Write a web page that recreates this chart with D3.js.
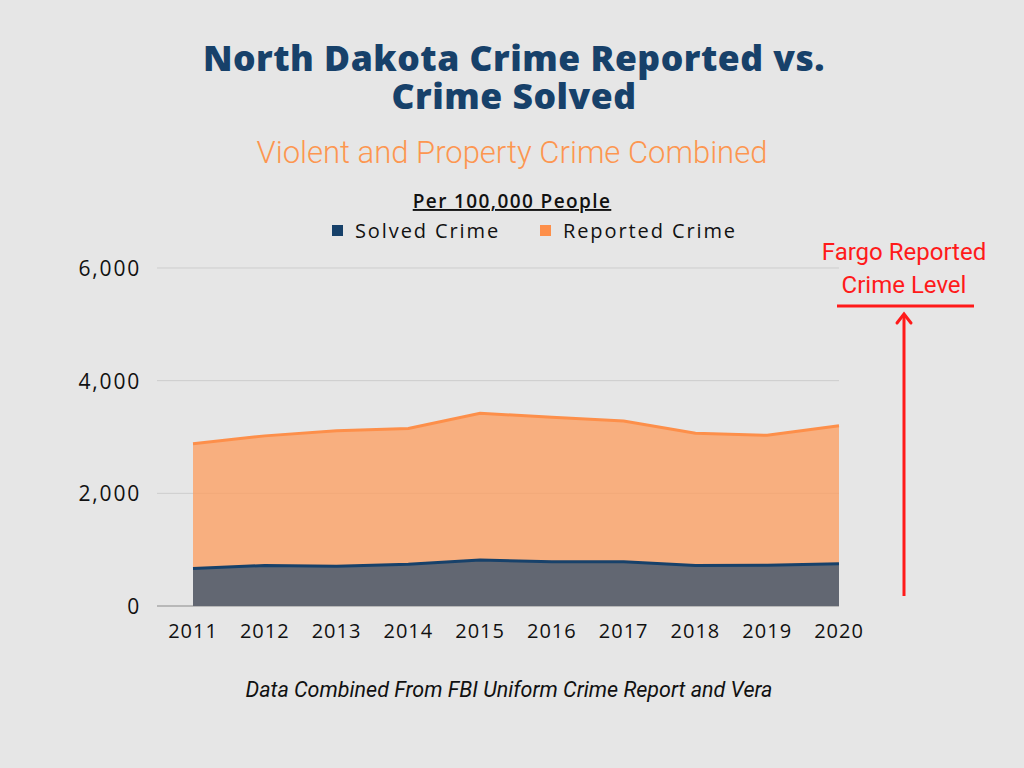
<!DOCTYPE html>
<html>
<head>
<meta charset="utf-8">
<script src="https://cdn.jsdelivr.net/npm/d3@7"></script>
<style>
  body { margin: 0; background: #e6e6e6; }
  svg { display: block; }
</style>
</head>
<body>
<div id="chart"></div>
<script>
// Chart data (per 100,000 people)
const years = [2011, 2012, 2013, 2014, 2015, 2016, 2017, 2018, 2019, 2020];
const reported = [2880, 3020, 3110, 3150, 3420, 3350, 3285, 3065, 3030, 3200];
const solved = [665, 720, 705, 740, 815, 785, 785, 720, 722, 750];
const yTicks = [0, 2000, 4000, 6000];

const W = 1024, H = 768;
const margin = { top: 268, right: 185, bottom: 162, left: 193 };
const width = W - margin.left - margin.right,
      height = H - margin.top - margin.bottom;

const svg = d3.select("#chart")
    .append("svg")
    .attr("width", W)
    .attr("height", H);

svg.append("rect").attr("width", W).attr("height", H).attr("fill", "#e6e6e6");

// Title (two lines in one text element)
const title = svg.append("text")
    .attr("text-anchor", "middle")
    .attr("font-family", "'Open Sans', sans-serif")
    .attr("font-weight", 800)
    .attr("font-size", 35.5)
    .attr("letter-spacing", 0.5)
    .attr("fill", "#17416a");
["North Dakota Crime Reported vs.", "Crime Solved"].forEach((t, i) => {
    title.append("tspan")
        .attr("x", 514).attr("y", 71 + i * 38)
        .text(t);
});

svg.append("text")
    .attr("x", 512).attr("y", 163)
    .attr("text-anchor", "middle")
    .attr("font-family", "Roboto, sans-serif")
    .attr("font-weight", 300)
    .attr("font-size", 31)
    .attr("fill", "#fd9650")
    .text("Violent and Property Crime Combined");

svg.append("text")
    .attr("x", 512).attr("y", 208)
    .attr("text-anchor", "middle")
    .attr("font-family", "'Open Sans', sans-serif")
    .attr("font-weight", 600)
    .attr("font-size", 19)
    .attr("letter-spacing", 1.4)
    .attr("fill", "#111")
    .attr("text-decoration", "underline")
    .text("Per 100,000 People");

// Legend
const legend = [
    { label: "Solved Crime", color: "#17416a", x: 332 },
    { label: "Reported Crime", color: "#fd8f4a", x: 540 }
];
legend.forEach(d => {
    svg.append("rect")
        .attr("x", d.x).attr("y", 225)
        .attr("width", 11).attr("height", 11)
        .attr("fill", d.color);
    svg.append("text")
        .attr("x", d.x + 23).attr("y", 238)
        .attr("font-family", "'Open Sans', sans-serif")
        .attr("font-size", 20)
        .attr("letter-spacing", 1.9)
        .attr("fill", "#111")
        .text(d.label);
});

const g = svg.append("g")
    .attr("transform", `translate(${margin.left},${margin.top})`);

const x = d3.scaleLinear()
    .domain([d3.min(years), d3.max(years)])
    .range([0, width]);

const y = d3.scaleLinear()
    .domain([0, 6000])
    .range([height, 0]);

// Gridlines
g.selectAll(".grid")
    .data(yTicks)
    .enter().append("line")
    .attr("x1", -36).attr("x2", width)
    .attr("y1", d => y(d)).attr("y2", d => y(d))
    .attr("stroke", d => d === 0 ? "#a8a8a8" : "#cdcdcd")
    .attr("stroke-width", d => d === 0 ? 1.5 : 1);

// Y labels
g.selectAll(".ylab")
    .data(yTicks)
    .enter().append("text")
    .attr("x", -52)
    .attr("y", d => y(d) + 8)
    .attr("text-anchor", "end")
    .attr("font-family", "'Open Sans', sans-serif")
    .attr("font-size", 21)
    .attr("letter-spacing", 1.8)
    .attr("fill", "#111")
    .text(d => d3.format(",")(d));

// X labels
g.selectAll(".xlab")
    .data(years)
    .enter().append("text")
    .attr("x", d => x(d))
    .attr("y", height + 32)
    .attr("text-anchor", "middle")
    .attr("font-family", "'Open Sans', sans-serif")
    .attr("font-size", 20)
    .attr("letter-spacing", 1)
    .attr("fill", "#111")
    .text(d => d);

// Areas share the same baseline at 0
const area = d3.area()
    .x((d, i) => x(years[i]))
    .y0(y(0))
    .y1(d => y(d));
const line = d3.line()
    .x((d, i) => x(years[i]))
    .y(d => y(d));

// Reported area
g.append("path")
    .datum(reported)
    .attr("d", area)
    .attr("fill", "#fd9c5c")
    .attr("fill-opacity", 0.75);
g.append("path")
    .datum(reported)
    .attr("d", line)
    .attr("fill", "none")
    .attr("stroke", "#fd8f4a")
    .attr("stroke-width", 3);

// Solved area
g.append("path")
    .datum(solved)
    .attr("d", area)
    .attr("fill", "#626772");
g.append("path")
    .datum(solved)
    .attr("d", line)
    .attr("fill", "none")
    .attr("stroke", "#17416a")
    .attr("stroke-width", 3);

// Footer
svg.append("text")
    .attr("x", 509).attr("y", 697)
    .attr("text-anchor", "middle")
    .attr("font-family", "Roboto, sans-serif")
    .attr("font-style", "italic")
    .attr("font-size", 21.5)
    .attr("fill", "#111")
    .text("Data Combined From FBI Uniform Crime Report and Vera");

// Fargo annotation
const red = "#ff1a1a";
["Fargo Reported", "Crime Level"].forEach((t, i) => {
    svg.append("text")
        .attr("x", 904).attr("y", 260 + i * 33)
        .attr("text-anchor", "middle")
        .attr("font-family", "Roboto, sans-serif")
        .attr("font-size", 24)
        .attr("fill", red)
        .text(t);
});
svg.append("line")
    .attr("x1", 837).attr("x2", 974)
    .attr("y1", 306).attr("y2", 306)
    .attr("stroke", red).attr("stroke-width", 3);
svg.append("line")
    .attr("x1", 904).attr("x2", 904)
    .attr("y1", 596).attr("y2", 316)
    .attr("stroke", red).attr("stroke-width", 3);
svg.append("path")
    .attr("d", "M897,323 L904,314 L911,323")
    .attr("fill", "none")
    .attr("stroke", red).attr("stroke-width", 3)
    .attr("stroke-linecap", "round");
</script>
</body>
</html>
